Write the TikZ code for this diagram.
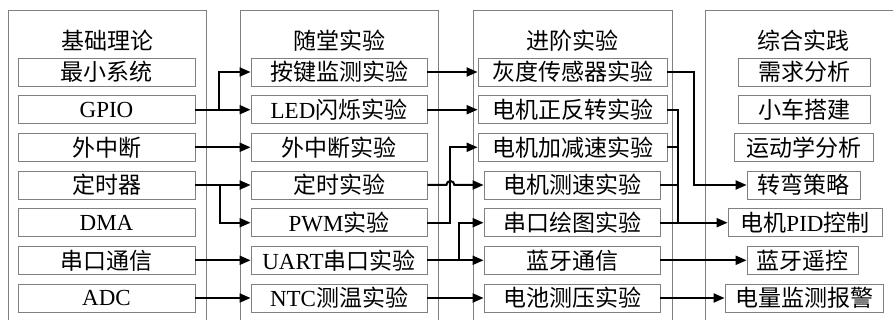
\documentclass[tikz,border=0pt]{standalone}
\usepackage{fontspec}
\setmainfont{Liberation Serif}
\newfontfamily\cjk{Noto Sans CJK SC}
\usetikzlibrary{arrows.meta}
\newcommand{\zhtext}[1]{{\cjk #1}}

\tikzset{
  column/.style={draw=black!50, line width=0.8pt},
  item/.style={draw=black!50, line width=0.8pt, minimum height=28pt,
    inner sep=0pt, font=\fontsize{23}{27}\selectfont},
  heading/.style={font=\fontsize{23}{27}\selectfont\cjk},
  wire/.style={line width=2pt},
  link/.style={wire, -{Triangle[length=11pt,width=9pt]}},
}

\begin{document}
\begin{tikzpicture}[x=1pt,y=-1pt]
  \clip (0,0) rectangle (893,320);

  % The four columns
  \draw [column] (8,10) rectangle (206,340);
  \draw [column] (240,10) rectangle (438,340);
  \draw [column] (473,10) rectangle (672,340);
  \draw [column] (705,10) rectangle (903,340);
  \node [heading] (basic) at (107,41) {基础理论};
  \node [heading] (class) at (339,41) {随堂实验};
  \node [heading] (adv) at (572.5,41) {进阶实验};
  \node [heading] (prac) at (803,41) {综合实践};

  % Basic theory
  \node [item, minimum width=177pt] (min) at (106.5,72) {\zhtext{最小系统}};
  \node [item, minimum width=177pt] (gpio) at (106.5,109.7) {GPIO};
  \node [item, minimum width=177pt] (ext) at (106.5,147.3) {\zhtext{外中断}};
  \node [item, minimum width=177pt] (timer) at (106.5,185) {\zhtext{定时器}};
  \node [item, minimum width=177pt] (dma) at (106.5,222.7) {DMA};
  \node [item, minimum width=177pt] (uart) at (106.5,260.3) {\zhtext{串口通信}};
  \node [item, minimum width=177pt] (adc) at (106.5,298) {ADC};

  % Class experiments
  \node [item, minimum width=176pt] (key) at (339,72) {\zhtext{按键监测实验}};
  \node [item, minimum width=176pt] (led) at (339,109.7) {LED\zhtext{闪烁实验}};
  \node [item, minimum width=176pt] (extexp) at (339,147.3) {\zhtext{外中断实验}};
  \node [item, minimum width=176pt] (timexp) at (339,185) {\zhtext{定时实验}};
  \node [item, minimum width=176pt] (pwm) at (339,222.7) {PWM\zhtext{实验}};
  \node [item, minimum width=176pt] (uartexp) at (339,260.3) {UART\zhtext{串口实验}};
  \node [item, minimum width=176pt] (ntc) at (339,298) {NTC\zhtext{测温实验}};

  % Advanced experiments
  \node [item, minimum width=189pt] (gray) at (572.5,72) {\zhtext{灰度传感器实验}};
  \node [item, minimum width=189pt] (motor) at (572.5,109.7) {\zhtext{电机正反转实验}};
  \node [item, minimum width=189pt] (accel) at (572.5,147.3) {\zhtext{电机加减速实验}};
  \node [item, minimum width=176pt] (speed) at (572,185) {\zhtext{电机测速实验}};
  \node [item, minimum width=176pt] (plot) at (572,222.7) {\zhtext{串口绘图实验}};
  \node [item, minimum width=176pt] (bt) at (572,260.3) {\zhtext{蓝牙通信}};
  \node [item, minimum width=176pt] (battery) at (572,298) {\zhtext{电池测压实验}};

  % Practice
  \node [item, minimum width=132pt] (need) at (804,72) {\zhtext{需求分析}};
  \node [item, minimum width=132pt] (car) at (804,109.7) {\zhtext{小车搭建}};
  \node [item, minimum width=139pt] (kin) at (803.5,147.3) {\zhtext{运动学分析}};
  \node [item, minimum width=113pt] (turn) at (803.5,185) {\zhtext{转弯策略}};
  \node [item, minimum width=154pt] (pid) at (805,222.7) {\zhtext{电机}PID\zhtext{控制}};
  \node [item, minimum width=111pt] (btctl) at (802.5,260.3) {\zhtext{蓝牙遥控}};
  \node [item, minimum width=158pt] (alarm) at (804,298) {\zhtext{电量监测报警}};

  % Basic theory to class experiments
  \draw [link] (gpio.east) -- (led.west);
  \draw [link] (gpio.east) -- ++(24,0) |- (key.west);
  \draw [link] (ext.east) -- (extexp.west);
  \draw [link] (timer.east) -- (timexp.west);
  \draw [link] (timer.east) -- ++(25,0) |- (pwm.west);
  \draw [link] (uart.east) -- (uartexp.west);
  \draw [link] (adc.east) -- (ntc.west);

  % Class to advanced experiments
  \draw [link] (key.east) -- (gray.west);
  \draw [link] (led.east) -- (motor.west);
  \draw [link] (pwm.east) -- ++(23,0) |- (accel.west);
  \draw [link] (timexp.east) -- ++(19,0) arc (180:0:4pt) -- (speed.west);
  \draw [link] (uartexp.east) -- (bt.west);
  \draw [link] (uartexp.east) -- ++(32,0) |- (plot.west);
  \draw [link] (ntc.east) -- (battery.west);

  % Advanced experiments to practice
  \coordinate (merge) at (678,222.7);
  \draw [link] (gray.east) -- ++(27,0) |- (turn.west);
  \draw [wire] (motor.east) -| (merge);
  \draw [wire] (accel.east) -| (merge);
  \draw [wire] (speed.east) -| (merge);
  \draw [link] (plot.east) -- (pid.west);
  \draw [link] (bt.east) -- (btctl.west);
  \draw [link] (battery.east) -- (alarm.west);
\end{tikzpicture}
\end{document}
